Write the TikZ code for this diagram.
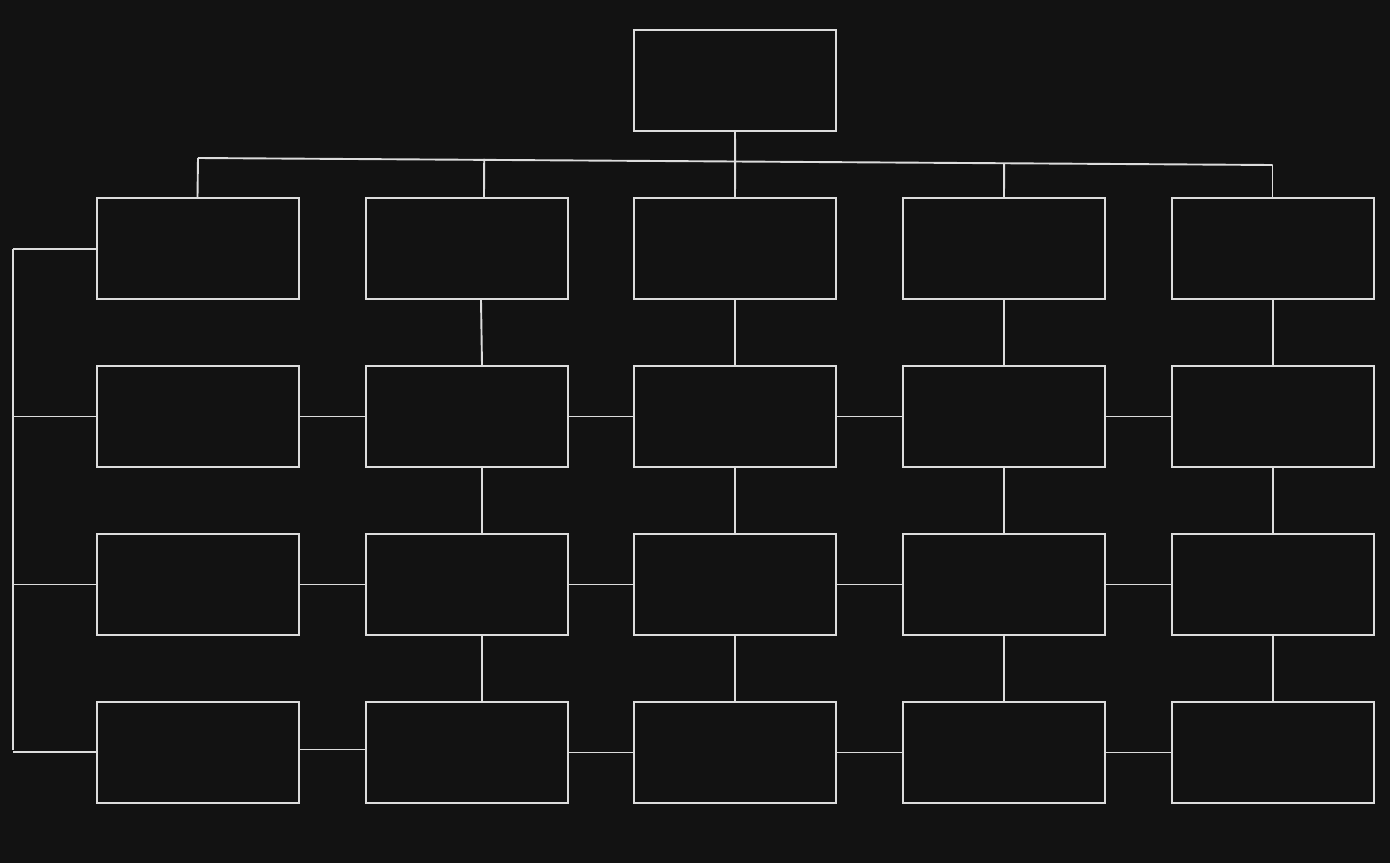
\documentclass[tikz,border=0pt]{standalone}
\usetikzlibrary{calc}
\definecolor{bg}{HTML}{121212}
\definecolor{ln}{HTML}{DCDCDC}
\begin{document}
\begin{tikzpicture}[x=1pt,y=-1pt,
  box/.style={draw=ln,line width=2pt,rectangle,inner sep=0pt,minimum width=202pt,minimum height=101pt,fill=bg},
  conn/.style={draw=ln,line width=1.9pt}]
\fill[bg] (0,0) rectangle (1390,863);
\useasboundingbox (0,0) rectangle (1390,863);
% top box
\node[box] (top) at (735,80.5) {};
% grid boxes
\foreach \c/\x in {1/198,2/466.5,3/735,4/1004,5/1273}{
  \foreach \r/\y in {1/248.5,2/416.5,3/584.5,4/752.5}{
    \node[box] (b\r\c) at (\x,\y) {};
  }
}
% top tree
\coordinate (hl) at (198,158);
\coordinate (hr) at (1272.5,165);
\coordinate (t2) at ([xshift=17.5pt]b12.north);
\coordinate (t5) at ([xshift=-0.5pt]b15.north);
\coordinate (h2) at ($(hl)!(t2)!(hr)$);
\coordinate (h3) at ($(hl)!(b13.north)!(hr)$);
\coordinate (h4) at ($(hl)!(b14.north)!(hr)$);
\draw[conn] (top.south) -- (h3);
\draw[conn] (hl) -- (hr);
\draw[conn] (hl) -- ([xshift=-0.5pt]b11.north);
\draw[conn] ([yshift=1pt]h2) -- (t2);
\draw[conn] (h3) -- (b13.north);
\draw[conn] (h4) -- (b14.north);
\draw[conn] (hr) -- (t5);
% left bus
\coordinate (bt) at (13,249);
\coordinate (bb) at (13,750);
\draw[conn] (bt) -- (bb);
\draw[conn] (bt) -- (bt -| b11.west);
\draw[conn] (b21.west -| bt) -- (b21.west);
\draw[conn] (b31.west -| bt) -- (b31.west);
\draw[conn] (13,752) -- (b41.west |- 0,752);
% column 2 verticals (offset)
\draw[conn] ([xshift=14.5pt]b12.south) -- ([xshift=15.5pt]b22.north);
\draw[conn] ([xshift=15.5pt]b22.south) -- ([xshift=15.5pt]b32.north);
\draw[conn] ([xshift=15.5pt]b32.south) -- ([xshift=15.5pt]b42.north);
% columns 3-5 verticals
\foreach \c in {3,4,5}{
  \draw[conn] (b1\c.south) -- (b2\c.north);
  \draw[conn] (b2\c.south) -- (b3\c.north);
  \draw[conn] (b3\c.south) -- (b4\c.north);
}
% horizontals rows 2 and 3
\foreach \r in {2,3}{
  \draw[conn] (b\r1.east) -- (b\r2.west);
  \draw[conn] (b\r2.east) -- (b\r3.west);
  \draw[conn] (b\r3.east) -- (b\r4.west);
  \draw[conn] (b\r4.east) -- (b\r5.west);
}
% row 4 horizontals
\draw[conn] ([yshift=3pt]b41.east) -- ([yshift=3pt]b42.west);
\draw[conn] (b42.east) -- (b43.west);
\draw[conn] (b43.east) -- (b44.west);
\draw[conn] (b44.east) -- (b45.west);
\end{tikzpicture}
\end{document}
